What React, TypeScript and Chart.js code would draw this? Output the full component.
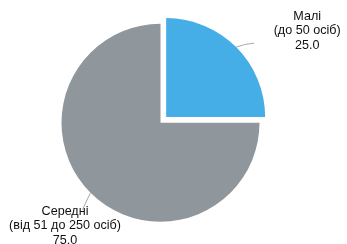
import { useEffect, useRef } from "react";
import { Chart, registerables } from "chart.js";

Chart.register(...registerables);

const categories = ["Малі", "Середні"];
const subLabels = ["(до 50 осіб)", "(від 51 до 250 осіб)"];
const values = [25.0, 75.0];
const colors = ["#46AEE7", "#8F979C"];
const offsets = [32, 0];

// label layout (style): leader extension from arc edge, text anchor relative to leader end
const layouts = [
  { lead: [18, -4], ctrl: [8, -3], dx: 53, dy: -23.5 },
  { lead: [-8, 17], ctrl: [-4, 8], dx: -17.5, dy: 5 },
];

const outLabels = {
  id: "outLabels",
  afterDatasetsDraw(chart: any) {
    const ctx = chart.ctx as CanvasRenderingContext2D;
    const meta = chart.getDatasetMeta(0);
    const ds = chart.data.datasets[0];
    meta.data.forEach((arc: any, i: number) => {
      const p = arc.getProps(["x", "y", "startAngle", "endAngle", "outerRadius"], true);
      const mid = (p.startAngle + p.endAngle) / 2;
      const disp = (arc.options.offset || 0) / 4;
      const cx = p.x + Math.cos(mid) * disp;
      const cy = p.y + Math.sin(mid) * disp;
      const x0 = cx + Math.cos(mid) * p.outerRadius;
      const y0 = cy + Math.sin(mid) * p.outerRadius;
      const L = layouts[i];
      const x1 = x0 + L.lead[0];
      const y1 = y0 + L.lead[1];
      ctx.save();
      ctx.strokeStyle = "#a8a8a8";
      ctx.lineWidth = 1;
      ctx.beginPath();
      ctx.moveTo(x0, y0);
      ctx.quadraticCurveTo(x0 + L.ctrl[0], y0 + L.ctrl[1], x1, y1);
      ctx.stroke();
      ctx.fillStyle = "#111111";
      ctx.font = "12.6px 'Liberation Sans', Arial, sans-serif";
      ctx.textAlign = "center";
      ctx.textBaseline = "alphabetic";
      const tx = x1 + L.dx;
      const ty = y1 + L.dy;
      const lines = [chart.data.labels[i], subLabels[i], Number(ds.data[i]).toFixed(1)];
      lines.forEach((t: string, k: number) => ctx.fillText(t, tx, ty + k * 14.5));
      ctx.restore();
    });
  },
};

export default function App() {
  const ref = useRef<HTMLCanvasElement | null>(null);
  useEffect(() => {
    if (!ref.current) return;
    const chart = new Chart(ref.current, {
      type: "pie",
      data: {
        labels: categories,
        datasets: [
          {
            data: values,
            backgroundColor: colors,
            borderWidth: 0,
            offset: offsets,
            hoverOffset: 0,
          },
        ],
      },
      options: {
        animation: false,
        responsive: false,
        radius: 99,
        layout: { padding: { left: 0, right: 26, top: 1.5, bottom: 0 } },
        plugins: { legend: { display: false }, tooltip: { enabled: false } },
        events: [],
      } as any,
      plugins: [outLabels],
    });
    return () => chart.destroy();
  }, []);
  return (
    <div style={{ position: "absolute", left: 0, top: 0, width: 347, height: 244, background: "#fff" }}>
      <canvas ref={ref} width={347} height={244} style={{ width: 347, height: 244, display: "block" }} />
    </div>
  );
}
